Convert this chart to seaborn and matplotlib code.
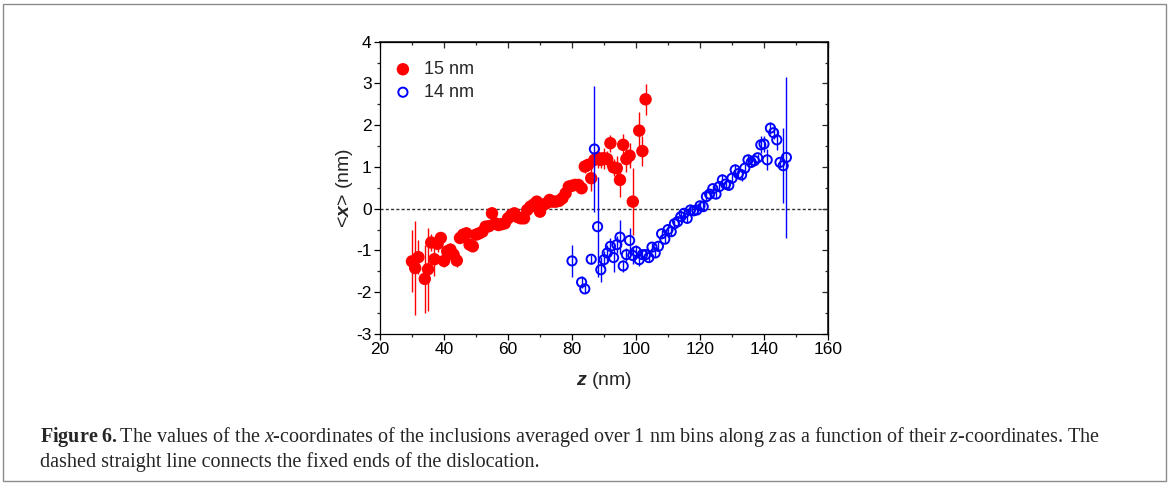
import numpy as np
import pandas as pd
import matplotlib
matplotlib.use("Agg")
import matplotlib.pyplot as plt
import seaborn as sns
from matplotlib.patches import Rectangle

# ---- data: 15 nm series (red, filled) ----
z15 = [30, 31, 32, 34, 35, 36, 37, 38, 39, 40, 41, 42, 43, 44, 45, 46, 47, 48, 49, 50,
       51, 52, 53, 54, 55, 56, 57, 58, 59, 60, 61, 62, 63, 64, 65, 66, 67, 68, 69, 70,
       71, 72, 73, 74, 75, 76, 77, 78, 79, 80, 81, 82, 83, 84, 85, 86, 87, 88, 89, 90,
       91, 92, 93, 94, 95, 96, 97, 98, 99, 101, 102, 103]
x15 = [-1.26, -1.42, -1.16, -1.68, -1.45, -0.81, -1.21, -0.84, -0.70, -1.25, -1.02, -0.98, -1.10, -1.24, -0.70, -0.62, -0.59, -0.86, -0.90, -0.62,
       -0.59, -0.55, -0.43, -0.42, -0.11, -0.35, -0.39, -0.37, -0.35, -0.23, -0.15, -0.11, -0.20, -0.23, -0.23, -0.03, 0.05, 0.10, 0.17, -0.07,
       0.09, 0.13, 0.21, 0.17, 0.17, 0.19, 0.25, 0.37, 0.53, 0.55, 0.57, 0.57, 0.49, 1.01, 1.05, 0.73, 1.17, 1.22, 1.17, 1.21,
       1.19, 1.57, 0.99, 0.97, 0.69, 1.53, 1.19, 1.27, 0.17, 1.87, 1.38, 2.62]
e15 = [0.74, 1.12, 0.40, 0.82, 1.00, 0.20, 0.40, 0.20, 0.15, 0.15, 0.10, 0.15, 0.10, 0.15, 0.10, 0.10, 0.15, 0.10, 0.10, 0.10,
       0.10, 0.10, 0.10, 0.10, 0.15, 0.10, 0.10, 0.10, 0.10, 0.10, 0.10, 0.10, 0.10, 0.10, 0.10, 0.10, 0.10, 0.10, 0.10, 0.10,
       0.10, 0.10, 0.10, 0.10, 0.10, 0.10, 0.10, 0.10, 0.10, 0.10, 0.10, 0.10, 0.10, 0.15, 0.15, 0.30, 0.20, 0.25, 0.20, 0.25,
       0.20, 0.20, 0.20, 0.30, 0.40, 0.25, 0.30, 0.30, 0.80, 0.45, 0.35, 0.37]

# ---- data: 14 nm series (blue, open) ----
z14 = [80, 83, 84, 86, 87, 88, 89, 90, 91, 92, 93, 94, 95, 96, 97, 98, 99, 100, 101, 102,
       103, 104, 105, 106, 107, 108, 109, 110, 111, 112, 113, 114, 115, 116, 117, 118, 119, 120, 121, 122,
       123, 124, 125, 126, 127, 128, 129, 130, 131, 132, 133, 134, 135, 136, 137, 138, 139, 140, 141, 142,
       143, 144, 145, 146, 147]
x14 = [-1.25, -1.76, -1.92, -1.21, 1.43, -0.43, -1.46, -1.22, -1.06, -0.90, -1.17, -0.86, -0.68, -1.37, -1.10, -0.76, -1.12, -1.02, -1.22, -1.10,
       -1.10, -1.17, -0.92, -1.06, -0.90, -0.60, -0.73, -0.50, -0.55, -0.36, -0.31, -0.19, -0.11, -0.23, -0.03, -0.05, -0.03, 0.07, 0.05, 0.29,
       0.35, 0.48, 0.35, 0.53, 0.69, 0.59, 0.56, 0.73, 0.93, 0.84, 0.81, 0.97, 1.17, 1.11, 1.15, 1.22, 1.53, 1.55, 1.17, 1.93,
       1.82, 1.65, 1.11, 1.03, 1.23]
e14 = [0.38, 0.15, 0.10, 0.10, 1.50, 1.20, 0.30, 0.20, 0.20, 0.20, 0.35, 0.20, 0.40, 0.15, 0.15, 0.30, 0.20, 0.15, 0.15, 0.10,
       0.10, 0.10, 0.10, 0.10, 0.10, 0.10, 0.10, 0.10, 0.10, 0.10, 0.10, 0.10, 0.10, 0.10, 0.10, 0.10, 0.10, 0.10, 0.10, 0.10,
       0.10, 0.10, 0.10, 0.10, 0.15, 0.10, 0.10, 0.10, 0.15, 0.10, 0.15, 0.10, 0.15, 0.10, 0.10, 0.10, 0.20, 0.20, 0.25, 0.15,
       0.15, 0.25, 0.10, 0.90, 1.93]

labels = ["15 nm", "14 nm"]
xticks = [20, 40, 60, 80, 100, 120, 140, 160]
yticks = [-3, -2, -1, 0, 1, 2, 3, 4]

caption1 = (r"$\mathbf{Figure\ 6.}$The values of the $\mathit{x}$-coordinates of the inclusions averaged over 1 nm bins along "
            r"$\mathit{z}\,$as a function of their $\mathit{z}$-coordinates. The")
caption2 = "dashed straight line connects the fixed ends of the dislocation."

# ---- style ----
sns.set_theme(style="ticks")
plt.rcParams["font.family"] = ["Liberation Sans", "DejaVu Sans"]
plt.rcParams["axes.unicode_minus"] = False
plt.rcParams["mathtext.fontset"] = "custom"
plt.rcParams["mathtext.sf"] = "Liberation Sans:bold:italic"
plt.rcParams["mathtext.bf"] = "Liberation Serif:bold"
plt.rcParams["mathtext.it"] = "Liberation Serif:italic"
plt.rcParams["mathtext.rm"] = "Liberation Serif"

W, H = 1170, 484
fig = plt.figure(figsize=(W / 100, H / 100), dpi=100)
ax = fig.add_axes([380 / W, 1 - 334 / H, 448 / W, 292.3 / H])

df15 = pd.DataFrame({"z": z15, "x": x15, "e": e15})
df14 = pd.DataFrame({"z": z14, "x": x14, "e": e14})

ax.axhline(0, color="#333333", lw=1.0, ls=(0, (2.2, 1.6)), zorder=1)

ax.errorbar(df15["z"], df15["x"], yerr=df15["e"], fmt="none", ecolor="#ff0000", elinewidth=1.0, capsize=0, zorder=2)
sns.scatterplot(data=df15, x="z", y="x", ax=ax, color="#ff0000", s=80, edgecolor="none",
                marker="o", label=labels[0], zorder=3)
ax.errorbar(df14["z"], df14["x"], yerr=df14["e"], fmt="none", ecolor="#0000ff", elinewidth=1.0, capsize=0, zorder=4)
sns.scatterplot(data=df14, x="z", y="x", ax=ax, facecolor="none", edgecolor="#0000ff", s=44,
                linewidth=1.4, marker="o", label=labels[1], zorder=5)

ax.set_xlim(20, 160)
ax.set_ylim(-3, 4)
ax.set_xticks(xticks)
ax.set_yticks(yticks)
ax.set_xticks(np.arange(30, 160, 20), minor=True)
ax.set_yticks(np.arange(-2.5, 4, 1), minor=True)
ax.tick_params(which="major", direction="out", length=4.5, width=0.9, labelsize=12.5, colors="black", pad=1.5)
ax.tick_params(which="minor", direction="out", length=2.5, width=0.9)
for s in ax.spines.values():
    s.set_linewidth(0.9)
    s.set_color("black")

# top / right ticks inward
sx = ax.secondary_xaxis("top")
sx.set_xticks(xticks)
sx.set_xticks(np.arange(30, 160, 20), minor=True)
sx.tick_params(which="major", direction="in", length=4.5, width=0.9, labeltop=False)
sx.tick_params(which="minor", direction="in", length=2.5, width=0.9)
sy = ax.secondary_yaxis("right")
sy.set_yticks(yticks)
sy.set_yticks(np.arange(-2.5, 4, 1), minor=True)
sy.tick_params(which="major", direction="in", length=4.5, width=0.9, labelright=False)
sy.tick_params(which="minor", direction="in", length=2.5, width=0.9)

ax.set_xlabel(r"$\mathsf{z}$ (nm)", fontsize=14, labelpad=9)
ax.set_ylabel(r"<$\mathsf{x}$> (nm)", fontsize=14, labelpad=1)

leg = ax.legend(loc="upper left", bbox_to_anchor=(0.031, 0.934), frameon=False, fontsize=13,
                handletextpad=0.65, handlelength=1.0, borderaxespad=0, borderpad=0,
                labelspacing=0.33, markerscale=1.0)

# caption
fig.text(40 / W, 1 - 442 / H, caption1, fontsize=14.5, family="Liberation Serif", va="baseline", ha="left")
fig.text(40 / W, 1 - 467 / H, caption2, fontsize=14.5, family="Liberation Serif", va="baseline", ha="left")

fig.patches.append(Rectangle((3 / W, 3 / H), 1163 / W, 477 / H, transform=fig.transFigure,
                             fill=False, edgecolor="#8c8c8c", lw=1.0))

fig.savefig("out.png", dpi=100)
